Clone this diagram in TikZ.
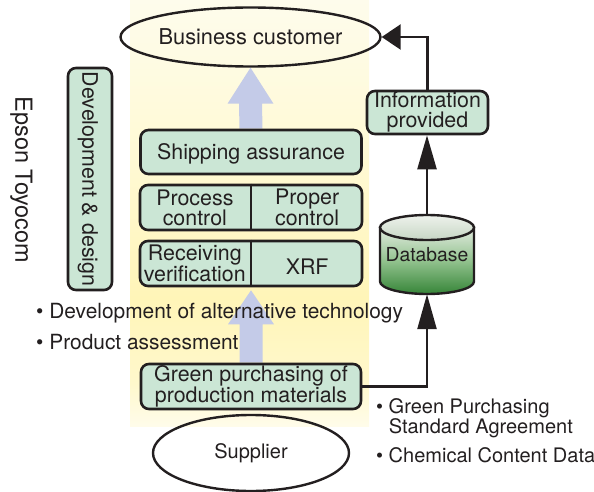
\documentclass[tikz,border=0pt]{standalone}
\usepackage{fontspec}
\setmainfont{TeX Gyre Heros}
\usetikzlibrary{shapes.geometric,arrows.meta,calc}

\definecolor{ink}{HTML}{231F20}
\definecolor{mint}{RGB}{203,230,213}
\definecolor{lavender}{RGB}{196,203,232}
\definecolor{creamtop}{RGB}{254,252,236}
\definecolor{creamupper}{RGB}{255,249,210}
\definecolor{creammid}{RGB}{255,245,184}
\definecolor{creamfoot}{RGB}{255,248,204}
\definecolor{creamlow}{RGB}{255,252,234}
\definecolor{dblight}{RGB}{226,235,224}
\definecolor{dbmid}{RGB}{146,194,142}
\definecolor{dbdark}{RGB}{54,133,56}
\definecolor{dbfacetop}{RGB}{238,242,236}
\definecolor{dbfacelow}{RGB}{198,214,196}

% backdrop band: pale cream at the top, yellow lower down, fading out at the foot
\pgfdeclareverticalshading{bandshade}{100bp}{color(0bp)=(white); color(25bp)=(creamlow);
  color(30bp)=(creamfoot); color(40bp)=(creammid); color(55bp)=(creamupper);
  color(75bp)=(creamtop); color(100bp)=(creamtop)}
% cylinder body: light green on top, dark green at the bottom
\pgfdeclareverticalshading{dbbody}{100bp}{color(0bp)=(dbdark); color(25bp)=(dbdark);
  color(50bp)=(dbmid); color(75bp)=(dblight); color(100bp)=(dblight)}

\pgfdeclarelayer{background}
\pgfsetlayers{background,main}

\newcommand\lblfont{\fontsize{21.4}{20}\selectfont}
\newcommand\notefont{\fontsize{20.9}{21}\selectfont}
\newcommand\sidefont{\fontsize{20}{20}\selectfont}

\tikzset{
  box/.style={draw=ink, line width=2.6pt, fill=mint, rounded corners=8pt,
    inner sep=0pt, font=\lblfont, text=ink, align=center},
  oval/.style={ellipse, draw=ink, line width=2.4pt, inner sep=0pt, text=ink},
  lbl/.style={inner sep=0pt, text=ink, font=\lblfont, align=center},
  note/.style={inner sep=0pt, text=ink, font=\notefont, anchor=base west},
  sidenote/.style={inner sep=0pt, text=ink, font=\sidefont, anchor=base west},
  conn/.style={draw=ink, line width=2.4pt},
  divider/.style={draw=ink, line width=2pt},
  upfill/.style={fill=lavender},
  captext/.style={text height=15.3pt, text depth=0pt}
}

\begin{document}
\begin{tikzpicture}[x=1pt, y=1pt]
\useasboundingbox (0,0) rectangle (594,-492);

% flow boxes
\node[oval, minimum width=195pt, minimum height=59pt,
      font=\fontsize{21.8}{22}\selectfont] (bc) at (250.5,-37) {Business customer};
\node[box, captext, minimum width=221pt, minimum height=44pt] (ship) at (251,-152) {Shipping assurance};
\node[box, minimum width=222pt, minimum height=45pt] (pc) at (251,-207.5) {};
\node[box, minimum width=222pt, minimum height=45pt] (rv) at (251,-263.5) {};
\node[box, minimum width=220pt, minimum height=45pt] (gp) at (251,-386.5) {Green purchasing of\\production materials};
\node[oval, minimum width=196pt, minimum height=76pt,
      font=\fontsize{20}{20}\selectfont] (sup) at (251,-453) {Supplier};

% split boxes
\draw[divider] (pc.north) -- (pc.south);
\draw[divider] (rv.north) -- (rv.south);
\node[lbl] (pcl) at ($(pc.west)!0.25!(pc.east)$) {Process\\control};
\node[lbl] (pcr) at ($(pc.west)!0.75!(pc.east)$) {Proper\\control};
\node[lbl] (rvl) at ($(rv.west)!0.25!(rv.east)$) {Receiving\\verification};
\node[lbl, captext] (rvr) at ($(rv.west)!0.75!(rv.east)+(0,-3)$) {XRF};

% side column
\node[box, captext, rotate=-90, minimum width=222pt, minimum height=44pt] (dev) at (90,-179) {Development \& design};
\node[lbl, rotate=-90, font=\fontsize{23.5}{24}\selectfont, text height=17pt, text depth=0pt]
  (epson) at (24,-180) {Epson Toyocom};

% database cylinder
\shadedraw[shading=dbbody, draw=ink, line width=2.4pt]
  (380,-227.5) -- (380,-281.5) arc[start angle=180, end angle=360, x radius=47pt, y radius=12.5pt]
  -- (474,-227.5) -- cycle;
\shadedraw[top color=dbfacetop, bottom color=dbfacelow, draw=ink, line width=2.4pt]
  (427,-227.5) ellipse [x radius=47pt, y radius=12.5pt];
\node[lbl, minimum width=94pt, minimum height=79pt, font=\fontsize{19.3}{20}\selectfont,
      text height=14pt, text depth=0pt] (db) at (427,-254.5) {Database};

\node[box, minimum width=121pt, minimum height=43pt] (info) at (427.5,-112.5) {Information\\provided};

% notes
\node[note] (alt) at (36,-318) {• Development of alternative technology};
\node[note] (pa) at (36,-349) {• Product assessment};
\node[sidenote] (gps1) at (376,-413) {• Green Purchasing};
\node[sidenote] (gps2) at (376,-433) {\hphantom{• }Standard Agreement};
\node[sidenote] (ccd) at (376,-462) {• Chemical Content Data};

% information flow
\draw[conn, -{Triangle[length=35pt,width=19pt]}] (gp.east) -| (db.south);
\draw[conn, -{Triangle[length=34pt,width=19pt]}] (db.north) -- (db.north |- info.south);
\draw[conn, -{Triangle[length=19pt,width=25pt]}] (info.north) |- (bc.east);

% backdrop band and material flow arrows
\begin{pgfonlayer}{background}
  \shade[shading=bandshade] (130,0) rectangle (369,-426);
  \fill[upfill] (bc.south) -- ++(23,-36) -- ++(-11.5,0) -- ($(ship.north)+(11.5,0)$)
    -- ($(ship.north)+(-11.5,0)$) -- ($(bc.south)+(-11.5,-36)$) -- ++(-11.5,0) -- cycle;
  \coordinate (rvtip) at ($(rv.south)+(0,-3)$);
  \fill[upfill] (rvtip) -- ++(23,-34) -- ++(-11.5,0) -- ($(gp.north)+(11.5,0)$)
    -- ($(gp.north)+(-11.5,0)$) -- ($(rvtip)+(-11.5,-34)$) -- ++(-11.5,0) -- cycle;
\end{pgfonlayer}
\end{tikzpicture}
\end{document}
